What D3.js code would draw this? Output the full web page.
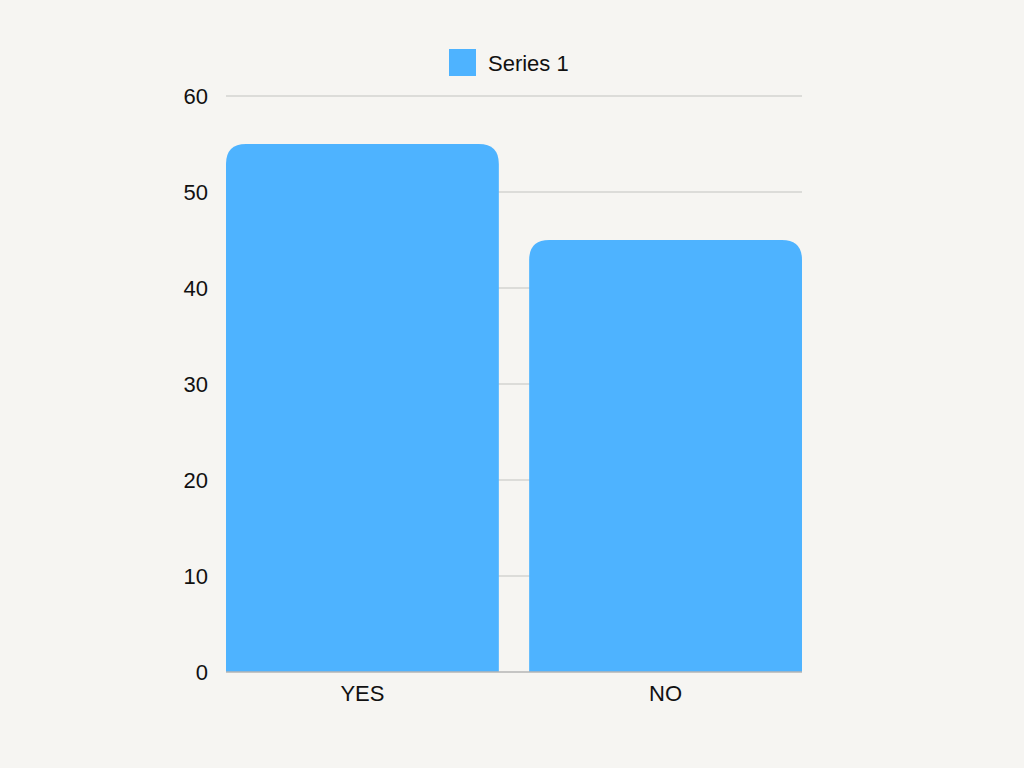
<!DOCTYPE html>
<html><head><meta charset="utf-8">
<script src="https://cdn.jsdelivr.net/npm/d3@7"></script>
<style>html,body{margin:0;padding:0;background:#f6f5f2;}svg{display:block;}</style>
</head><body>
<script>
const categories = ["YES", "NO"];
const values = [55, 45];
const yTicks = [0, 10, 20, 30, 40, 50, 60];
const seriesName = "Series 1";

const W = 1024, H = 768;
const m = {left: 226, right: 222, top: 96, bottom: 96};
const color = "#4eb3ff";
const font = "'Liberation Sans', Arial, sans-serif";
const fs = 22;

const svg = d3.select("body").append("svg").attr("width", W).attr("height", H);
svg.append("rect").attr("width", W).attr("height", H).attr("fill", "#f6f5f2");

const x = d3.scaleBand().domain(categories).range([m.left, W - m.right]).paddingInner(0.1).paddingOuter(0);
const y = d3.scaleLinear().domain([0, 60]).range([H - m.bottom, m.top]);

// gridlines
svg.append("g").selectAll("line").data(yTicks.filter(d => d > 0)).join("line")
  .attr("x1", m.left).attr("x2", W - m.right)
  .attr("y1", d => y(d)).attr("y2", d => y(d))
  .attr("stroke", "#d3d3d1").attr("stroke-width", 1.3);

// y labels
svg.append("g").selectAll("text").data(yTicks).join("text")
  .attr("x", 208).attr("y", d => y(d)).attr("dy", "0.35em")
  .attr("text-anchor", "end").attr("font-family", font).attr("font-size", fs).attr("fill", "#111")
  .text(d => d);

// bars with rounded top
const r = 20;
function barPath(x0, w, yTop, yBase) {
  const rr = Math.min(r, w / 2, yBase - yTop);
  return `M${x0},${yBase}V${yTop + rr}Q${x0},${yTop} ${x0 + rr},${yTop}H${x0 + w - rr}Q${x0 + w},${yTop} ${x0 + w},${yTop + rr}V${yBase}Z`;
}
svg.append("g").selectAll("path").data(categories).join("path")
  .attr("d", (c, i) => barPath(x(c), x.bandwidth(), y(values[i]), y(0)))
  .attr("fill", color);

// baseline
svg.append("line").attr("x1", m.left).attr("x2", W - m.right)
  .attr("y1", y(0)).attr("y2", y(0)).attr("stroke", "#b5b5b5").attr("stroke-width", 1.3);

// x labels
svg.append("g").selectAll("text").data(categories).join("text")
  .attr("x", c => x(c) + x.bandwidth() / 2).attr("y", y(0) + 21).attr("dy", "0.35em")
  .attr("text-anchor", "middle").attr("font-family", font).attr("font-size", fs).attr("fill", "#111")
  .text(c => c);

// legend
const lg = svg.append("g");
lg.append("rect").attr("x", 449).attr("y", 49).attr("width", 27).attr("height", 27).attr("fill", color);
lg.append("text").attr("x", 488).attr("y", 63).attr("dy", "0.35em")
  .attr("font-family", font).attr("font-size", fs).attr("fill", "#111").text(seriesName);
</script>
</body></html>
